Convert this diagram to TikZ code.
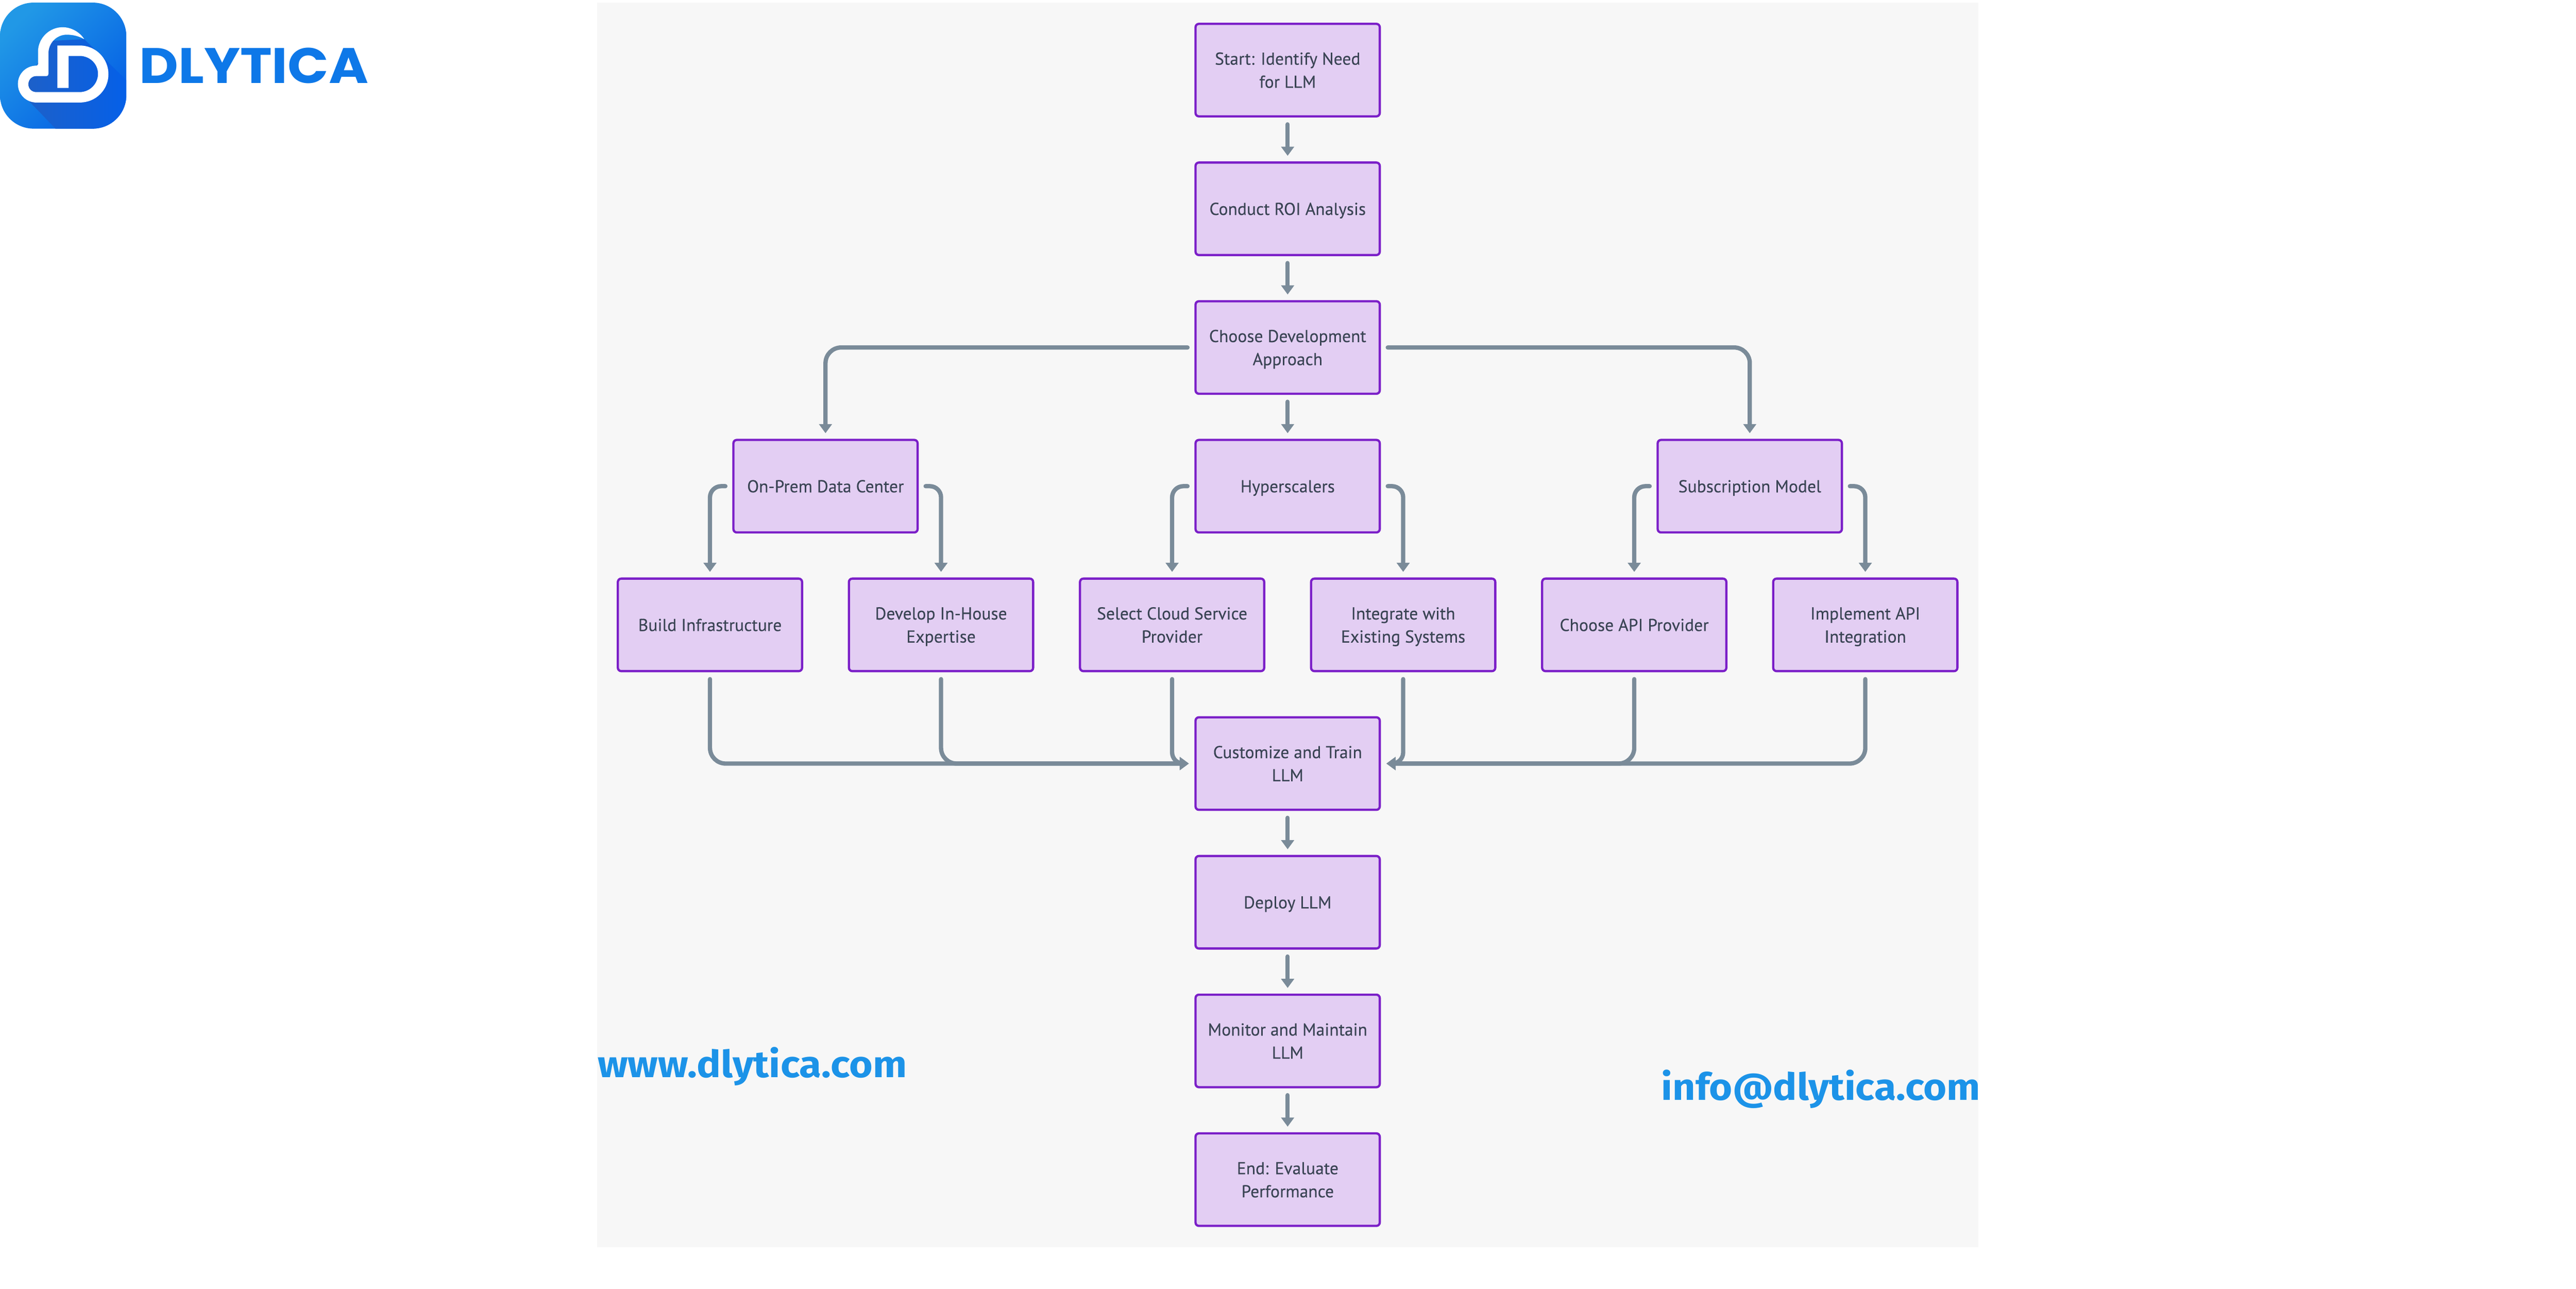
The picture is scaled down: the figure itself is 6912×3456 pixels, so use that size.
\documentclass[tikz,border=0pt]{standalone}
\usepackage{fontspec}
\usetikzlibrary{arrows.meta,calc}
\setmainfont{PT Sans}[FakeBold=0.3]
\newfontfamily\urlfont{Fira Sans}[FakeStretch=1.08]
\newfontfamily\mailfont{Fira Sans}[FakeStretch=1.065]
\newfontfamily\brandfont{Poppins}[FakeStretch=1.08]
\definecolor{bgc}{HTML}{F7F7F7}
\definecolor{boxfill}{HTML}{E3CEF3}
\definecolor{boxline}{HTML}{7B1FC8}
\definecolor{conn}{HTML}{7A8B99}
\definecolor{txt}{HTML}{3A4454}
\definecolor{urlc}{HTML}{1C93E8}
\definecolor{brandc}{HTML}{0E78E8}
\definecolor{logotl}{HTML}{2198E6}
\definecolor{logobr}{HTML}{0560E5}
\definecolor{shadel}{HTML}{1F60C6}
\definecolor{shader}{HTML}{0560E8}
\newcommand{\hs}{\rule{0pt}{13pt}}
\tikzset{
  x=0.01cm,y=-0.01cm,
  flowbox/.style={draw=boxline,fill=boxfill,line width=0.06cm,rounded corners=0.09cm,
    minimum width=4.94cm,minimum height=2.48cm,inner sep=0pt,outer sep=0pt,align=center,text=txt,
    font=\fontsize{13.2pt}{17.6pt}\selectfont,
    execute at end node={\rule[-3.6pt]{0pt}{3.6pt}}},
  flow/.style={draw=conn,line width=0.115cm,line cap=round,shorten <=0.215cm,shorten >=0.18cm,
    -{Triangle[width=0.34cm,length=0.245cm]}},
  flowa/.style={flow,rounded corners=0.42cm},
  flowb/.style={flow,rounded corners=0.3cm},
  urltext/.style={anchor=base west,inner sep=0pt,outer sep=0pt,text=urlc,
    font=\urlfont\bfseries\fontsize{28.5pt}{30pt}\selectfont},
  mailtext/.style={anchor=base west,inner sep=0pt,outer sep=0pt,text=urlc,
    font=\mailfont\bfseries\fontsize{28.5pt}{30pt}\selectfont},
}
\begin{document}
\begin{tikzpicture}
\path[use as bounding box,fill=white] (0,0) rectangle (6912,3456);
\fill[bgc] (1602,7) rectangle (5309,3345);
% logo
\shade[top color=logotl,bottom color=logobr,shading angle=45,rounded corners=0.9cm] (0,7) rectangle (339,345);
\begin{scope}
\clip[rounded corners=0.9cm] (0,7) rectangle (339,345);
\shade[left color=shadel,right color=shader]
  (226,105) -- (339,215) -- (339,345) -- (149,345) -- (74,267) -- (48,225) -- (98,176) -- (130,110) -- cycle;
\end{scope}
\fill[white] (226,105)
  .. controls (212,97) and (196,93) .. (179,93)
  .. controls (152,93) and (130,115) .. (130,143)
  -- (130,198) .. controls (130,202) and (128,204) .. (125,204)
  -- (97,204) .. controls (85,204) and (76,214) .. (76,226)
  .. controls (76,238) and (85,247) .. (97,247)
  -- (214,247) .. controls (241,247) and (263,225) .. (263,198)
  .. controls (263,171) and (241,150) .. (214,150)
  -- (184,150) -- (184,236) -- (154,236) -- (154,122) -- (214,122)
  .. controls (257,122) and (291,157) .. (291,199)
  .. controls (291,241) and (257,275) .. (214,275)
  -- (98,275) .. controls (70,275) and (48,253) .. (48,225)
  .. controls (48,198) and (70,176) .. (98,176)
  .. controls (100,176) and (102,174) .. (102,172)
  -- (102,139) .. controls (102,103) and (132,73) .. (168,73)
  .. controls (191,73) and (214,86) .. (226,105) -- cycle;
\node[anchor=base west,inner sep=0pt,outer sep=0pt,text=brandc,font=\brandfont\bfseries\fontsize{38pt}{40pt}\selectfont] (brand) at (374,223) {DLYTICA};
% nodes
\node[flowbox] (start) at (3455,188) {\hs Start: Identify Need\\for LLM};
\node[flowbox] (roi) at (3455,560) {\hs Conduct ROI Analysis};
\node[flowbox] (choose) at (3455,932) {\hs Choose Development\\Approach};
\node[flowbox] (onprem) at (2215,1304) {\hs On-Prem Data Center};
\node[flowbox] (hyper) at (3455,1304) {\hs Hyperscalers};
\node[flowbox] (subs) at (4695,1304) {\hs Subscription Model};
\node[flowbox] (build) at (1905,1676) {\hs Build Infrastructure};
\node[flowbox] (develop) at (2525,1676) {\hs Develop In-House\\Expertise};
\node[flowbox] (cloud) at (3145,1676) {\hs Select Cloud Service\\Provider};
\node[flowbox] (integrate) at (3765,1676) {\hs Integrate with\\Existing Systems};
\node[flowbox] (apiprov) at (4385,1676) {\hs Choose API Provider};
\node[flowbox] (apiint) at (5005,1676) {\hs Implement API\\Integration};
\node[flowbox] (custom) at (3455,2048) {\hs Customize and Train\\LLM};
\node[flowbox] (deploy) at (3455,2420) {\hs Deploy LLM};
\node[flowbox] (monitor) at (3455,2792) {\hs Monitor and Maintain\\LLM};
\node[flowbox] (finish) at (3455,3164) {\hs End: Evaluate\\Performance};
% connectors
\draw[flow] (start) -- (roi);
\draw[flow] (roi) -- (choose);
\draw[flow] (choose) -- (hyper);
\draw[flow] (custom) -- (deploy);
\draw[flow] (deploy) -- (monitor);
\draw[flow] (monitor) -- (finish);
\draw[flowa] (choose.west) -| (onprem.north);
\draw[flowa] (choose.east) -| (subs.north);
\draw[flowb] (onprem.west) -| (build.north);
\draw[flowb] (onprem.east) -| (develop.north);
\draw[flowb] (hyper.west) -| (cloud.north);
\draw[flowb] (hyper.east) -| (integrate.north);
\draw[flowb] (subs.west) -| (apiprov.north);
\draw[flowb] (subs.east) -| (apiint.north);
\draw[flowa] (build.south) |- (custom.west);
\draw[flowa] (develop.south) |- (custom.west);
\draw[flowb] (cloud.south) |- (custom.west);
\draw[flowb] (integrate.south) |- (custom.east);
\draw[flowa] (apiprov.south) |- (custom.east);
\draw[flowa] (apiint.south) |- (custom.east);
% urls
\node[urltext] (web) at (1604,2889.5) {www.dlytica.com};
\node[mailtext] (mail) at (4458,2950) {info@dlytica.com};
\end{tikzpicture}
\end{document}
